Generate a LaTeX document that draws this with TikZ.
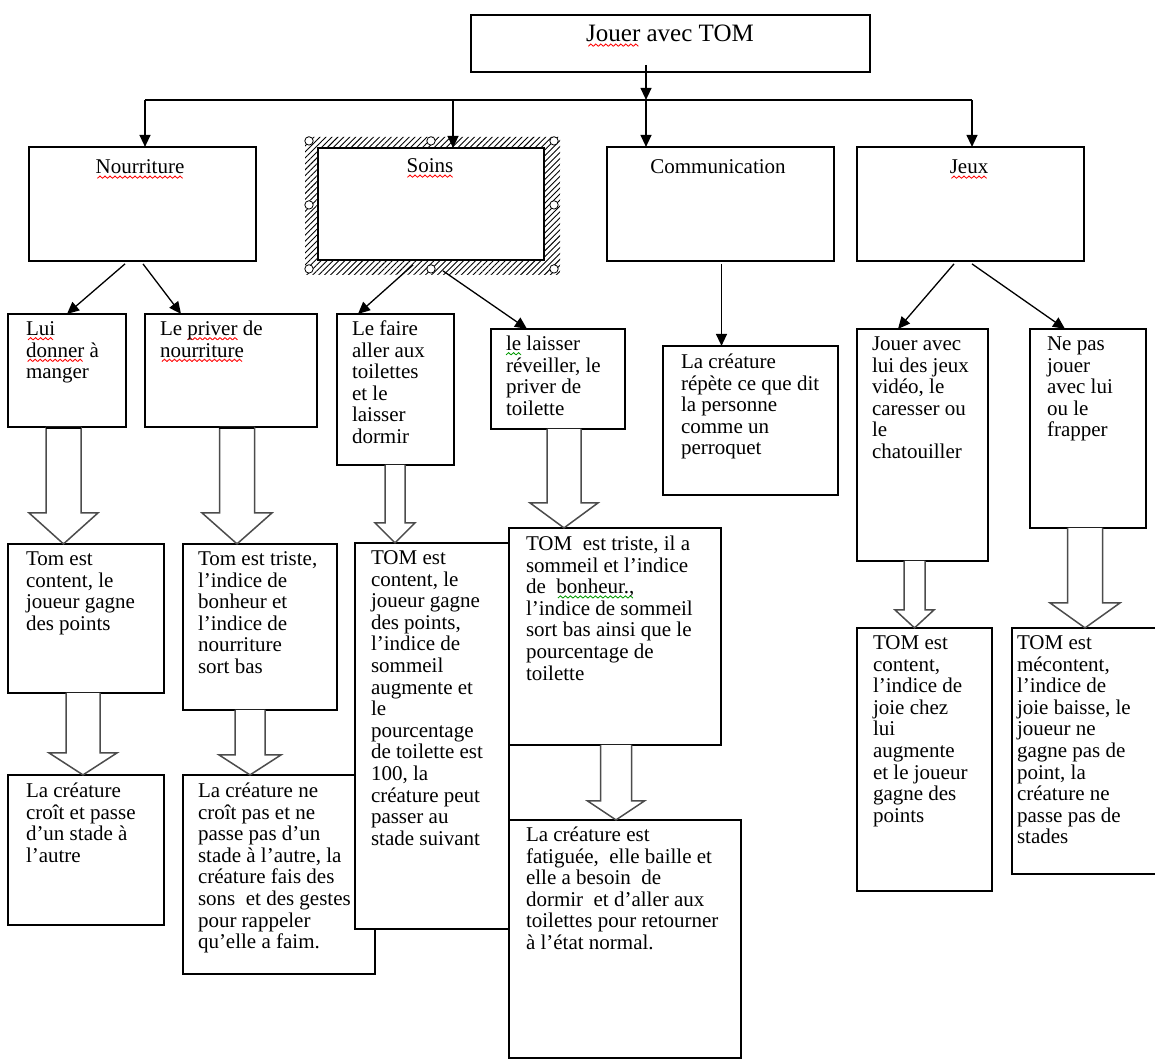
\documentclass[tikz,border=0pt]{standalone}
\usepackage{fontspec}
\setmainfont{Liberation Serif}
\usetikzlibrary{arrows.meta,calc,patterns.meta}
\newsavebox\redwave
\newsavebox\greenwave
\newsavebox\sqword
\newcommand\makewave[2]{\sbox#1{\begin{pgfpicture}%
  \pgfsetlinewidth{0.85pt}\pgfsetstrokecolor{#2}%
  \pgfpathmoveto{\pgfpoint{0pt}{0pt}}\pgfpathlineto{\pgfpoint{2.5pt}{2.3pt}}\pgfpathlineto{\pgfpoint{5pt}{0pt}}%
  \pgfusepath{stroke}%
  \pgfresetboundingbox
  \pgfpathrectangle{\pgfpoint{0pt}{-0.6pt}}{\pgfpoint{5pt}{3.5pt}}\pgfusepath{use as bounding box}%
  \end{pgfpicture}}}
\newcommand\sqr[1]{\sbox\sqword{#1}\rlap{\lower5pt\hbox to\wd\sqword{\cleaders\copy\redwave\hfil}}\usebox\sqword}
\newcommand\sqg[1]{\sbox\sqword{#1}\rlap{\lower5pt\hbox to\wd\sqword{\cleaders\copy\greenwave\hfil}}\usebox\sqword}
\newcommand\mkbox[5]{\node[box,minimum width={(#4-#2)*1pt},minimum height={(#5-#3)*1pt}] (#1) at ({(#2+#4)/2},{-(#3+#5)/2}) {};}
\newcommand\blockarr[6]{\filldraw[blk] let \p1=(#1.south), \p2=(#2.north) in
 ({(#3-#4)*1pt},\y1) -- ({(#3-#4)*1pt},{\y2+#6pt}) -- ({(#3-#5)*1pt},{\y2+#6pt}) -- ({#3*1pt},\y2) -- ({(#3+#5)*1pt},{\y2+#6pt}) -- ({(#3+#4)*1pt},{\y2+#6pt}) -- ({(#3+#4)*1pt},\y1);}
\begin{document}
\begin{tikzpicture}[x=1pt,y=1pt,
  box/.style={rectangle,draw=black,line width=1.4pt,fill=white,inner sep=0pt,outer sep=0pt},
  txt/.style={anchor=north west,inner sep=0pt,outer sep=0pt,align=left,font=\fontsize{21}{21.6}\selectfont},
  hdr/.style={anchor=base,inner sep=0pt,font=\fontsize{21}{21.6}\selectfont},
  arr/.style={draw=black,line width=1.3pt,-{Triangle[length=12pt,width=11pt]}},
  link/.style={draw=black,line width=1.3pt},
  blk/.style={draw=black!70,line width=1.5pt,fill=white,line join=miter},
  shafttop/.style={draw=black,line width=2.6pt},
  handle/.style={draw=black,fill=white,line width=0.8pt}]
\makewave{\redwave}{red}
\makewave{\greenwave}{green!60!black}
\useasboundingbox[fill=white] (0,0) rectangle (1155,-1060);
\clip (0,0) rectangle (1155,-1060);

% level 1
\mkbox{jouer}{471}{12}{870}{69}
\node[hdr,font=\fontsize{25}{28}\selectfont] (tjouer) at (670,-39) {\sqr{Jouer} avec TOM};

% level 2
\mkbox{nour}{29}{144}{256}{258}
\mkbox{soins}{318}{145}{544}{257}
\mkbox{comm}{607}{144}{834}{258}
\mkbox{jeux}{857}{144}{1084}{258}
\path[pattern={Lines[angle=45,distance=4.2pt,line width=0.9pt]},even odd rule]
  (305,-134) rectangle (560,-272) (soins.north west) rectangle (soins.south east);
\draw[line width=2.6pt] (soins.north east) -- (soins.south east) -- (soins.south west);
\foreach \hx/\hy in {309/-138,431/-138,554/-138,309/-202,554/-202,309/-266,431/-266,554/-266}
  \draw[handle] (\hx,\hy) circle (4.2);
\node[hdr] (tnour) at (140,-171) {\sqr{Nourriture}};
\node[hdr] (tsoins) at (430,-170) {\sqr{Soins}};
\node[hdr] (tcomm) at (718,-171) {Communication};
\node[hdr] (tjeux) at (969,-171) {\sqr{Jeux}};

% bus and arrows
\coordinate (busL) at (145,-97);
\coordinate (busS) at (453,-97);
\coordinate (busC) at (646,-97);
\coordinate (busR) at (972,-97);
\coordinate (jt) at (646,-62);
\draw[link] (busL) -- (busR);
\draw[arr] (jt) -- (busC);
\draw[arr] (busL) -- (busL |- nour.north);
\draw[arr] (busS) -- (busS |- soins.north);
\draw[arr] (busC) -- (busC |- comm.north);
\draw[arr] (busR) -- (busR |- jeux.north);

% level 3
\mkbox{lui}{8}{311}{126}{424}
\mkbox{priv}{145}{311}{317}{424}
\mkbox{faire}{337}{311}{454}{462}
\mkbox{laisser}{491}{326}{625}{426}
\mkbox{perro}{663}{343}{838}{492}
\mkbox{jouerjeux}{857}{326}{988}{558}
\mkbox{nepas}{1030}{326}{1146}{525}
\node[txt] (tlui) at (26,-317.5) {\strut\sqr{Lui}\\\sqr{donner} à\\manger};
\node[txt] (tpriv) at (160,-317.5) {\strut Le \sqr{priver} de\\\sqr{nourriture}};
\node[txt] (tfaire) at (352,-317.5) {\strut Le faire\\aller aux\\toilettes\\et le\\laisser\\dormir};
\node[txt] (tlaisser) at (506,-332.5) {\strut\sqg{le} laisser\\réveiller, le\\priver de\\toilette};
\node[txt] (tperro) at (681,-350.5) {\strut La créature\\répète ce que dit\\la personne\\comme un\\perroquet};
\node[txt] (tjouerjeux) at (872,-332.5) {\strut Jouer avec\\lui des jeux\\vidéo, le\\caresser ou\\le\\chatouiller};
\node[txt] (tnepas) at (1047,-332.5) {\strut Ne pas\\jouer\\avec lui\\ou le\\frapper};

% diagonal connectors
\draw[arr] ($(nour.south west)+(96,-3)$) -- (lui.north);
\draw[arr] ($(nour.south west)+(114,-3)$) -- ($(priv.north west)+(36,0)$);
\draw[arr] ($(soins.south west)+(95,-5)$) -- ($(faire.north west)+(21,0)$);
\draw[arr] ($(soins.south west)+(125,-11)$) -- ($(laisser.north west)+(36,0)$);
\draw[arr] ($(comm.south)+(1,-3)$) -- ($(comm.south |- perro.north)+(1,0)$);
\draw[arr] ($(jeux.south west)+(97,-3)$) -- ($(jouerjeux.north west)+(41,0)$);
\draw[arr] ($(jeux.south west)+(115,-3)$) -- ($(nepas.north west)+(35,0)$);

% level 4 and 5
\mkbox{c1}{8}{541}{164}{690}
\mkbox{t1}{183}{541}{337}{707}
\mkbox{f2}{183}{772}{375}{971}
\node[txt] (tf2) at (198,-779.5) {\strut La créature ne\\croît pas et ne\\passe pas d’un\\stade à l’autre, la\\créature fais des\\sons\ \ et des gestes\\pour rappeler\\qu’elle a faim.};
\mkbox{c2}{355}{540}{509}{926}
\mkbox{t2}{509}{525}{721}{742}
\mkbox{c3}{857}{625}{992}{888}
\mkbox{m}{1012}{625}{1175}{871}
\mkbox{f1}{8}{772}{164}{922}
\mkbox{f3}{509}{817}{741}{1055}
\node[txt] (tc1) at (26,-547.5) {\strut Tom est\\content, le\\joueur gagne\\des points};
\node[txt] (tt1) at (198,-547.5) {\strut Tom est triste,\\l’indice de\\bonheur et\\l’indice de\\nourriture\\sort bas};
\node[txt] (tc2) at (371,-546.5) {\strut TOM est\\content, le\\joueur gagne\\des points,\\l’indice de\\sommeil\\augmente et\\le\\pourcentage\\de toilette est\\100, la\\créature peut\\passer au\\stade suivant};
\node[txt] (tt2) at (526,-532.5) {\strut TOM\ \ est triste, il a\\sommeil et l’indice\\de\ \ \sqg{bonheur.,}\\l’indice de sommeil\\sort bas ainsi que le\\pourcentage de\\toilette};
\node[txt] (tc3) at (873,-631.5) {\strut TOM est\\content,\\l’indice de\\joie chez\\lui\\augmente\\et le joueur\\gagne des\\points};
\node[txt] (tm) at (1017,-631.5) {\strut TOM est\\mécontent,\\l’indice de\\joie baisse, le\\joueur ne\\gagne pas de\\point, la\\créature ne\\passe pas de\\stades};
\node[txt] (tf1) at (26,-779.5) {\strut La créature\\croît et passe\\d’un stade à\\l’autre};
\node[txt] (tf3) at (526,-823.5) {\strut La créature est\\fatiguée,\ \ elle baille et\\elle a besoin\ \ de\\dormir\ \ et d’aller aux\\toilettes pour retourner\\à l’état normal.};

% block arrows
\blockarr{lui}{c1}{63.5}{17.5}{34.5}{31}
\blockarr{priv}{t1}{237}{17.5}{35}{31}
\blockarr{faire}{c2}{395}{10}{20}{20}
\blockarr{laisser}{t2}{564}{17}{34}{25}
\blockarr{c1}{f1}{83}{17}{34}{22}
\blockarr{t1}{f2}{250}{15}{31}{20}
\blockarr{t2}{f3}{616}{15.5}{28.5}{19}
\blockarr{jouerjeux}{c3}{914.5}{10.5}{19.5}{18}
\blockarr{nepas}{m}{1085}{17.5}{35}{25}
\draw[shafttop] ($(lui.south)+(-21,-1)$) -- ($(lui.south)+(14,-1)$);
\draw[shafttop] ($(priv.south)+(-12,-1)$) -- ($(priv.south)+(23,-1)$);
\end{tikzpicture}
\end{document}
